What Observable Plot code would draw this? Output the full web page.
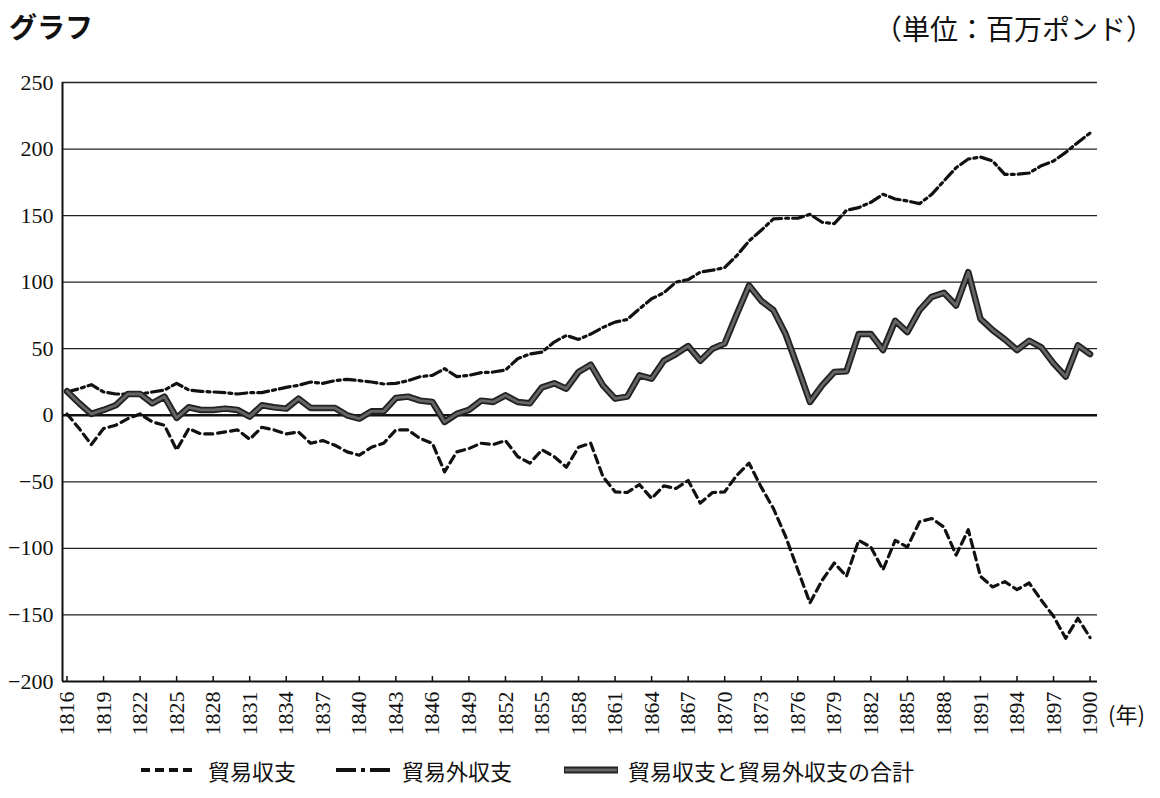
<!DOCTYPE html>
<html>
<head>
<meta charset="utf-8">
<script src="https://cdn.jsdelivr.net/npm/d3@7"></script>
<script src="https://cdn.jsdelivr.net/npm/@observablehq/plot@0.6"></script>
<style>
  html, body { margin: 0; padding: 0; background: #fff; }
  #wrap { position: relative; width: 1160px; height: 798px; overflow: hidden; }
  #chart { position: absolute; left: 0; top: 0; }
  #chart svg text { font-family: "Times New Roman", Times, "Liberation Serif", serif !important; }
  .jp { font-family: "Noto Sans CJK JP", sans-serif; color: #111; position: absolute; white-space: nowrap; }
  #title { left: 9px; top: 6px; font-size: 28px; font-weight: bold; }
  #unit { right: 6px; top: 8px; font-size: 28px; }
  #nen { left: 1108px; top: 697px; font-size: 22px; }
  .leg { position: absolute; top: 754px; display: flex; align-items: center; font-family: "Noto Sans CJK JP", sans-serif; font-size: 22px; color: #111; white-space: nowrap; }
  .leg svg { margin-right: 10px; }
</style>
</head>
<body>
<div id="wrap">
  <div id="chart"></div>
  <div id="title" class="jp">グラフ</div>
  <div id="unit" class="jp">（単位：百万ポンド）</div>
  <div id="nen" class="jp">(年)</div>
  <div class="leg" style="left:140px"><svg width="58" height="10"><line x1="1" y1="5" x2="57" y2="5" stroke="#111" stroke-width="4" stroke-dasharray="9,5"/></svg>貿易収支</div>
  <div class="leg" style="left:336px"><svg width="56" height="10"><line x1="0" y1="5" x2="56" y2="5" stroke="#111" stroke-width="4" stroke-dasharray="20,5,4,5"/></svg>貿易外収支</div>
  <div class="leg" style="left:564px"><svg width="54" height="12"><line x1="0" y1="6" x2="54" y2="6" stroke="#222" stroke-width="7"/><line x1="1" y1="6" x2="53" y2="6" stroke="#666" stroke-width="3"/></svg>貿易収支と貿易外収支の合計</div>
</div>
<script>
const years = d3.range(1816, 1901);
const tradeBalance = [
  1, -10, -22, -10, -7.5, -2.5, 1, -5, -7.5, -26,
  -10, -14, -14, -12.5, -11, -18, -9, -11, -14, -12.5,
  -21, -19, -22.5, -27.5, -30, -24, -21, -11, -11, -17.5,
  -21, -42.5, -27.5, -25, -21, -22, -19, -31, -36, -26,
  -31, -39, -24, -21, -46, -57.5, -58, -52, -62.5, -53,
  -55, -49, -66, -58, -57.5, -45, -36, -54, -70, -91,
  -116, -141, -124, -111, -121, -94, -99, -116, -94, -99,
  -80, -77.5, -84, -105, -86, -121, -129, -125, -131, -126,
  -139, -151, -167.5, -152.5, -167
];
const invisibleBalance = [
  17.5, 20, 23, 17.5, 16, 16, 16, 17.5, 19, 24,
  19, 18, 17.5, 17, 16, 17, 17, 19, 21, 22.5,
  25, 24, 26, 27, 26, 25, 23.5, 24, 26, 29,
  30, 35, 29, 30, 32, 32.5, 34, 42.5, 46, 47.5,
  55, 60, 57, 61, 66, 70, 72, 80, 87.5, 92,
  100, 102, 107.5, 109, 111, 120, 131, 139, 147.5, 148,
  148, 151, 145, 144, 154, 156, 160, 166, 162.5, 161,
  159, 166, 176, 186, 192.5, 194, 191, 181, 181, 182,
  187.5, 191, 197.5, 205, 212
];
const totalBalance = [
  18, 9, 1, 4, 7.5, 16, 16, 9, 14, -2,
  6, 4, 4, 5, 4, -1, 7.5, 6, 5, 12.5,
  5.5, 5.5, 5.5, 0, -2.5, 3, 3, 13, 14, 11,
  10, -5, 1, 4, 11, 10, 15, 10, 9, 21,
  24, 20, 32.5, 38, 22.5, 12.5, 14, 30, 27.5, 41,
  46, 52, 41, 50, 54, 76, 97.5, 86, 79, 61,
  36, 10, 22.5, 32.5, 33, 61, 61, 49, 71, 62.5,
  79, 89, 92, 82.5, 107.5, 72.5, 64, 57, 49, 56,
  51, 39, 29, 52.5, 46
];
const xTicks = d3.range(1816, 1901, 3);
const yTicks = [250, 200, 150, 100, 50, 0, -50, -100, -150, -200];

const data = years.map((year, i) => ({
  year, trade: tradeBalance[i], invisible: invisibleBalance[i], total: totalBalance[i]
}));

const xDomain = [1815.63, 1900.61];

const chart = Plot.plot({
  width: 1160,
  height: 750,
  marginTop: 82,
  marginBottom: 69,
  marginLeft: 62,
  marginRight: 63,
  style: { fontSize: "22px", color: "#111", background: "transparent", fontFamily: "Times New Roman, Liberation Serif, serif" },
  x: { domain: xDomain, label: null },
  y: { domain: [-200, 250], label: null },
  marks: [
    Plot.ruleY(yTicks.filter(d => d !== 0 && d !== -200), { stroke: "#222", strokeWidth: 1.3 }),
    Plot.ruleY([0], { stroke: "#111", strokeWidth: 2.4 }),
    Plot.ruleY([-200], { stroke: "#111", strokeWidth: 2 }),
    Plot.ruleX([xDomain[0]], { y1: -200, y2: 250, stroke: "#111", strokeWidth: 2 }),
    Plot.ruleX(xTicks, { x: d => d, y1: -200, y2: -196.2, stroke: "#111", strokeWidth: 1.5 }),
    Plot.axisY({ ticks: yTicks, tickSize: 0, tickPadding: 9, fontSize: 22,
      tickFormat: d => d < 0 ? "−" + Math.abs(d) : String(d) }),
    Plot.axisX({ ticks: xTicks, tickSize: 0, tickPadding: 10, tickRotate: -90, fontSize: 22,
      tickFormat: d => String(d) }),
    Plot.line(data, { x: "year", y: "trade", stroke: "#111", strokeWidth: 3.2, strokeDasharray: "8,5" }),
    Plot.line(data, { x: "year", y: "invisible", stroke: "#111", strokeWidth: 3.2, strokeDasharray: "11,4,3,4" }),
    Plot.line(data, { x: "year", y: "total", stroke: "#222", strokeWidth: 6.5, strokeLinejoin: "round" }),
    Plot.line(data, { x: "year", y: "total", stroke: "#666", strokeWidth: 2.8, strokeLinejoin: "round" })
  ]
});
document.getElementById("chart").appendChild(chart);
</script>
</body>
</html>
